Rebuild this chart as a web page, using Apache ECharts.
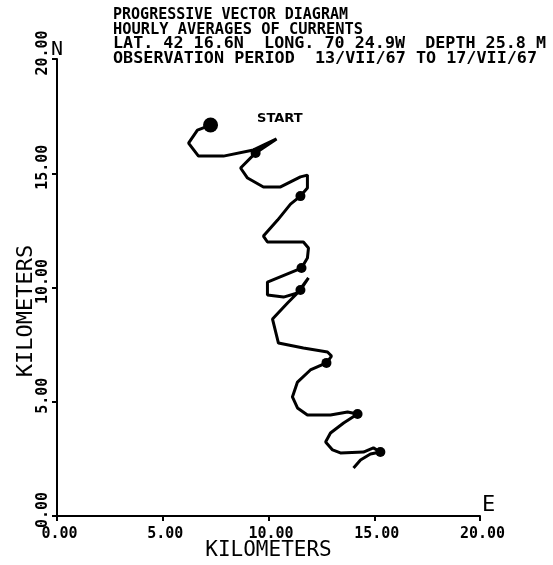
<!DOCTYPE html>
<html>
<head>
<meta charset="utf-8">
<script src="https://cdn.jsdelivr.net/npm/echarts@6/dist/echarts.min.js"></script>
<style>
  html, body { margin: 0; padding: 0; background: #fff; }
  #chart { width: 553px; height: 565px; }
</style>
</head>
<body>
<div id="chart"></div>
<script>
// Progressive vector diagram: cumulative displacement of hourly-averaged currents (km)
const titleLines = [
  'PROGRESSIVE VECTOR DIAGRAM',
  'HOURLY AVERAGES OF CURRENTS',
  'LAT. 42 16.6N  LONG. 70 24.9W  DEPTH 25.8 M',
  'OBSERVATION PERIOD  13/VII/67 TO 17/VII/67'
];

// East displacement (km)
const trackX = [
  7.26, 6.64, 6.22, 6.69, 7.87, 9.29, 10.38, 9.39, 8.68, 9.01,
  9.76, 10.57, 11.51, 11.84, 11.84, 11.51, 11.04, 10.43, 9.76, 9.95,
  11.04, 11.65, 11.89, 11.84, 11.56, 9.95, 9.95, 10.71, 11.37, 11.89,
  11.51, 10.90, 10.19, 10.47, 11.65, 12.79, 12.98, 12.74, 11.98, 11.37,
  11.13, 11.37, 11.84, 12.93, 13.74, 14.21, 13.55, 12.93, 12.70, 13.03,
  13.40, 14.49, 14.96, 15.29, 14.82, 14.35, 14.02
];
// North displacement (km)
const trackY = [
  17.11, 16.89, 16.32, 15.75, 15.75, 16.02, 16.50, 15.89, 15.23, 14.79,
  14.40, 14.40, 14.84, 14.92, 14.35, 14.00, 13.65, 12.95, 12.25, 11.99,
  11.99, 11.99, 11.73, 11.29, 10.85, 10.24, 9.67, 9.58, 9.76, 10.42,
  9.89, 9.32, 8.62, 7.57, 7.35, 7.18, 7.00, 6.70, 6.39, 5.86,
  5.21, 4.73, 4.42, 4.42, 4.55, 4.46, 4.07, 3.63, 3.24, 2.89,
  2.76, 2.80, 2.98, 2.80, 2.71, 2.45, 2.10
];
// Positions along the track that carry a time marker
const markerIdx = [7, 15, 24, 30, 37, 45, 53];
const startLabel = 'START';

const axisMin = 0, axisMax = 20, axisStep = 5;
const axisTitle = 'KILOMETERS';
const northLabel = 'N', eastLabel = 'E';

const mono = '"DejaVu Sans Mono"';
const track = trackX.map((x, i) => [x, trackY[i]]);
const markers = markerIdx.map(i => track[i]);

// Heading block: each line is stretched horizontally to the plotter lettering width
const headFontSize = 15;
const headRight = [348, 363, 546, 537];
const headLeft = 113;
const headGraphics = titleLines.map((t, i) => {
  const natural = t.length * 0.602 * headFontSize;
  return {
    type: 'text', x: headLeft, y: 8 + i * 14.4,
    scaleX: (headRight[i] - headLeft) / natural,
    style: {
      text: t, font: 'bold ' + headFontSize + 'px ' + mono,
      fill: '#000', verticalAlign: 'top', align: 'left'
    }
  };
});

const chart = echarts.init(document.getElementById('chart'));
chart.setOption({
  backgroundColor: '#ffffff',
  animation: false,
  grid: { left: 57, right: 73, top: 59, bottom: 49, containLabel: false, outerBoundsMode: 'none' },
  xAxis: {
    type: 'value', min: axisMin, max: axisMax, interval: axisStep,
    name: axisTitle, nameLocation: 'middle', nameGap: 24, nameMoveOverlap: false,
    nameTextStyle: { fontFamily: 'DejaVu Sans Mono', fontSize: 21, color: '#000', verticalAlign: 'top' },
    axisLine: { show: true, lineStyle: { color: '#000', width: 2 } },
    axisTick: { show: true, inside: false, length: 5, lineStyle: { color: '#000', width: 2 } },
    axisLabel: {
      formatter: v => v.toFixed(2), fontFamily: 'DejaVu Sans Mono', fontWeight: 'bold',
      fontSize: 15, color: '#000', margin: 11, padding: [0, 0, 0, 5]
    },
    splitLine: { show: false }
  },
  yAxis: {
    type: 'value', min: axisMin, max: axisMax, interval: axisStep,
    axisLine: { show: true, lineStyle: { color: '#000', width: 2 } },
    axisTick: { show: true, inside: false, length: 5, lineStyle: { color: '#000', width: 2 } },
    axisLabel: {
      formatter: v => v.toFixed(2), rotate: 90, fontFamily: 'DejaVu Sans Mono', fontWeight: 'bold',
      fontSize: 15, color: '#000', margin: 6, padding: [0, 0, 0, 12]
    },
    splitLine: { show: false }
  },
  graphic: headGraphics.concat([
    { type: 'text', x: 51, y: 40, style: { text: northLabel, font: '20px ' + mono, fill: '#000' } },
    { type: 'text', x: 482, y: 494, style: { text: eastLabel, font: '22px ' + mono, fill: '#000' } },
    {
      type: 'text', x: 26, y: 311, rotation: Math.PI / 2,
      style: { text: axisTitle, font: '22px ' + mono, fill: '#000', align: 'center', verticalAlign: 'middle' }
    }
  ]),
  series: [
    {
      type: 'line', data: track, showSymbol: false, smooth: false,
      lineStyle: { color: '#000', width: 3 }, z: 2
    },
    {
      type: 'scatter', data: markers, symbol: 'circle', symbolSize: 10,
      itemStyle: { color: '#000', opacity: 1 }, z: 3
    },
    {
      type: 'scatter', data: [track[0]], symbol: 'circle', symbolSize: 15,
      itemStyle: { color: '#000', opacity: 1 }, z: 4,
      label: {
        show: true, formatter: startLabel, position: 'right', offset: [34, -6],
        fontFamily: 'DejaVu Sans', fontWeight: 'bold', fontSize: 13, color: '#000'
      }
    }
  ]
});
</script>
</body>
</html>
